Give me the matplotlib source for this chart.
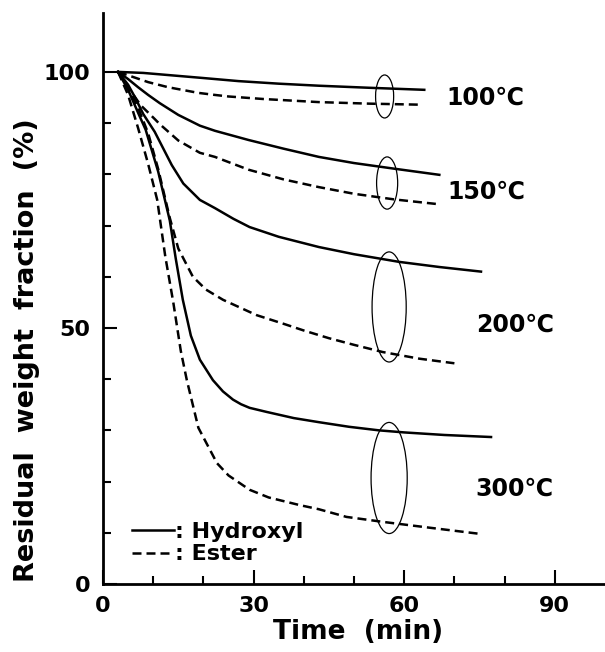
import numpy as np
import matplotlib
matplotlib.use("Agg")
import matplotlib.pyplot as plt
from matplotlib.patches import Ellipse
from matplotlib.ticker import MultipleLocator, FixedLocator

plt.rcParams['font.family'] = ['DejaVu Sans', 'Noto Sans CJK JP']
plt.rcParams['font.weight'] = 'bold'

# hydroxyl (solid) curves, time in min, residual weight in %
t_h100 = [3, 8, 14, 20, 27, 35, 43, 53, 64]
w_h100 = [100, 99.8, 99.3, 98.8, 98.2, 97.7, 97.3, 96.9, 96.5]
t_h150 = [3, 5, 7, 9, 11.3, 15, 19.3, 22.3, 29, 36, 43, 50, 58, 67]
w_h150 = [100, 98.6, 97.0, 95.5, 93.9, 91.6, 89.5, 88.5, 86.7, 85.0, 83.4, 82.2, 81.1, 79.9]
t_h200 = [3, 5, 6.5, 8, 10.3, 13.7, 16, 19.3, 22.3, 26, 29.2, 35, 43, 50, 59, 67, 75.3]
w_h200 = [100, 97.5, 94.8, 91.8, 88.3, 81.8, 78.2, 75.0, 73.4, 71.3, 69.7, 67.8, 65.8,
          64.4, 62.9, 61.9, 61.0]
t_h300 = [3, 5, 7, 8.5, 11, 13.3, 14.5, 15.9, 17.5, 19.3, 21.9, 23.9, 25.9, 27.5, 29.2,
          32.6, 38, 43, 49, 55, 60, 68, 77.3]
w_h300 = [100, 96.5, 92, 88.7, 80.5, 71, 63.5, 55.5, 48.5, 43.8, 39.8, 37.6, 36.0, 35.1,
          34.4, 33.6, 32.4, 31.6, 30.7, 30.0, 29.6, 29.1, 28.7]

# ester (dashed) curves
t_e100 = [3, 6, 9, 13, 19, 22.3, 25, 32, 43, 53, 63]
w_e100 = [100, 99.0, 98.0, 97.0, 95.9, 95.5, 95.2, 94.7, 94.1, 93.8, 93.6]
t_e150 = [3, 5, 7.5, 10.3, 11.3, 15, 19.3, 22.3, 29, 36, 43, 50, 58, 66.5]
w_e150 = [100, 97, 93.5, 90.8, 89.8, 86.6, 84.2, 83.4, 80.9, 79.0, 77.5, 76.2, 75.1, 74.2]
t_e200 = [3, 5, 7, 9, 11, 13.3, 15, 17.9, 20.5, 23.9, 30.6, 36, 40, 45, 50, 55.7, 63, 70]
w_e200 = [100, 97, 93, 88, 81, 71.5, 65.5, 60, 57.5, 55.5, 52.5, 50.8, 49.5, 48.0, 46.7,
          45.3, 44, 43.1]
t_e300 = [3, 5, 7, 9, 10.8, 12.4, 14, 15.5, 16.7, 19, 22.7, 25, 29.2, 33, 39.2, 43, 48.5,
          56, 65, 75]
w_e300 = [100, 95.5, 89, 82, 75, 64, 55, 45.5, 39.8, 30.5, 23.6, 21.2, 18.4, 16.9, 15.4,
          14.6, 13.1, 12.1, 11, 9.8]

temps = ['100℃', '150℃', '200℃', '300℃']
label_x = [68.4, 68.6, 74.4, 74.2]
label_y = [94.9, 76.6, 50.6, 18.6]

# loops grouping each pair of curves: centre x, centre y, width, height
loop_x = [56.1, 56.6, 57.0, 57.0]
loop_y = [95.2, 78.3, 54.1, 20.7]
loop_w = [3.6, 4.2, 6.8, 7.2]
loop_h = [8.4, 10.2, 21.5, 21.7]

fig = plt.figure(figsize=(6.05, 6.52), dpi=100)
ax = fig.add_axes([103 / 605, 68 / 652, 502 / 605, 571 / 652])

hyd = [(t_h100, w_h100), (t_h150, w_h150), (t_h200, w_h200), (t_h300, w_h300)]
est = [(t_e100, w_e100), (t_e150, w_e150), (t_e200, w_e200), (t_e300, w_e300)]
lw = 1.8
for t, w in hyd:
    ln_h, = ax.plot(t, w, color='black', lw=lw, solid_joinstyle='round')
for t, w in est:
    ln_e, = ax.plot(t, w, color='black', lw=lw, dashes=(3.6, 2.0))

for i in range(4):
    ax.add_patch(Ellipse((loop_x[i], loop_y[i]), loop_w[i], loop_h[i],
                         fill=False, lw=0.9, color='black'))
    ax.text(label_x[i], label_y[i], temps[i], fontsize=17, fontweight='bold',
            va='center', ha='left')

ax.legend([ln_h, ln_e], [': Hydroxyl', ': Ester'], loc='lower left',
          bbox_to_anchor=(0.035, 0.015), frameon=False, fontsize=16,
          handlelength=1.9, handletextpad=0.05, labelspacing=0.12, borderpad=0)

ax.set_xlim(0, 100)
ax.set_ylim(0, 111.5)
ax.xaxis.set_major_locator(MultipleLocator(30))
ax.xaxis.set_minor_locator(FixedLocator([10, 20, 40, 50, 70, 80]))
ax.yaxis.set_major_locator(MultipleLocator(50))
ax.yaxis.set_minor_locator(FixedLocator([10, 20, 30, 40, 60, 70, 80, 90]))
ax.tick_params(which='both', direction='in', width=1.5, labelsize=16, pad=9)
ax.tick_params(which='major', length=10)
ax.tick_params(which='minor', length=6)
for s in ['top', 'right']:
    ax.spines[s].set_visible(False)
for s in ['left', 'bottom']:
    ax.spines[s].set_linewidth(2)

ax.set_xlabel('Time  (min)', fontsize=19, fontweight='bold')
ax.xaxis.set_label_coords(0.508, -0.062)
ax.set_ylabel('Residual  weight  fraction  (%)', fontsize=19.5, fontweight='bold')
ax.yaxis.set_label_coords(-0.125, 0.41)

fig.savefig('out.png', dpi=100)
